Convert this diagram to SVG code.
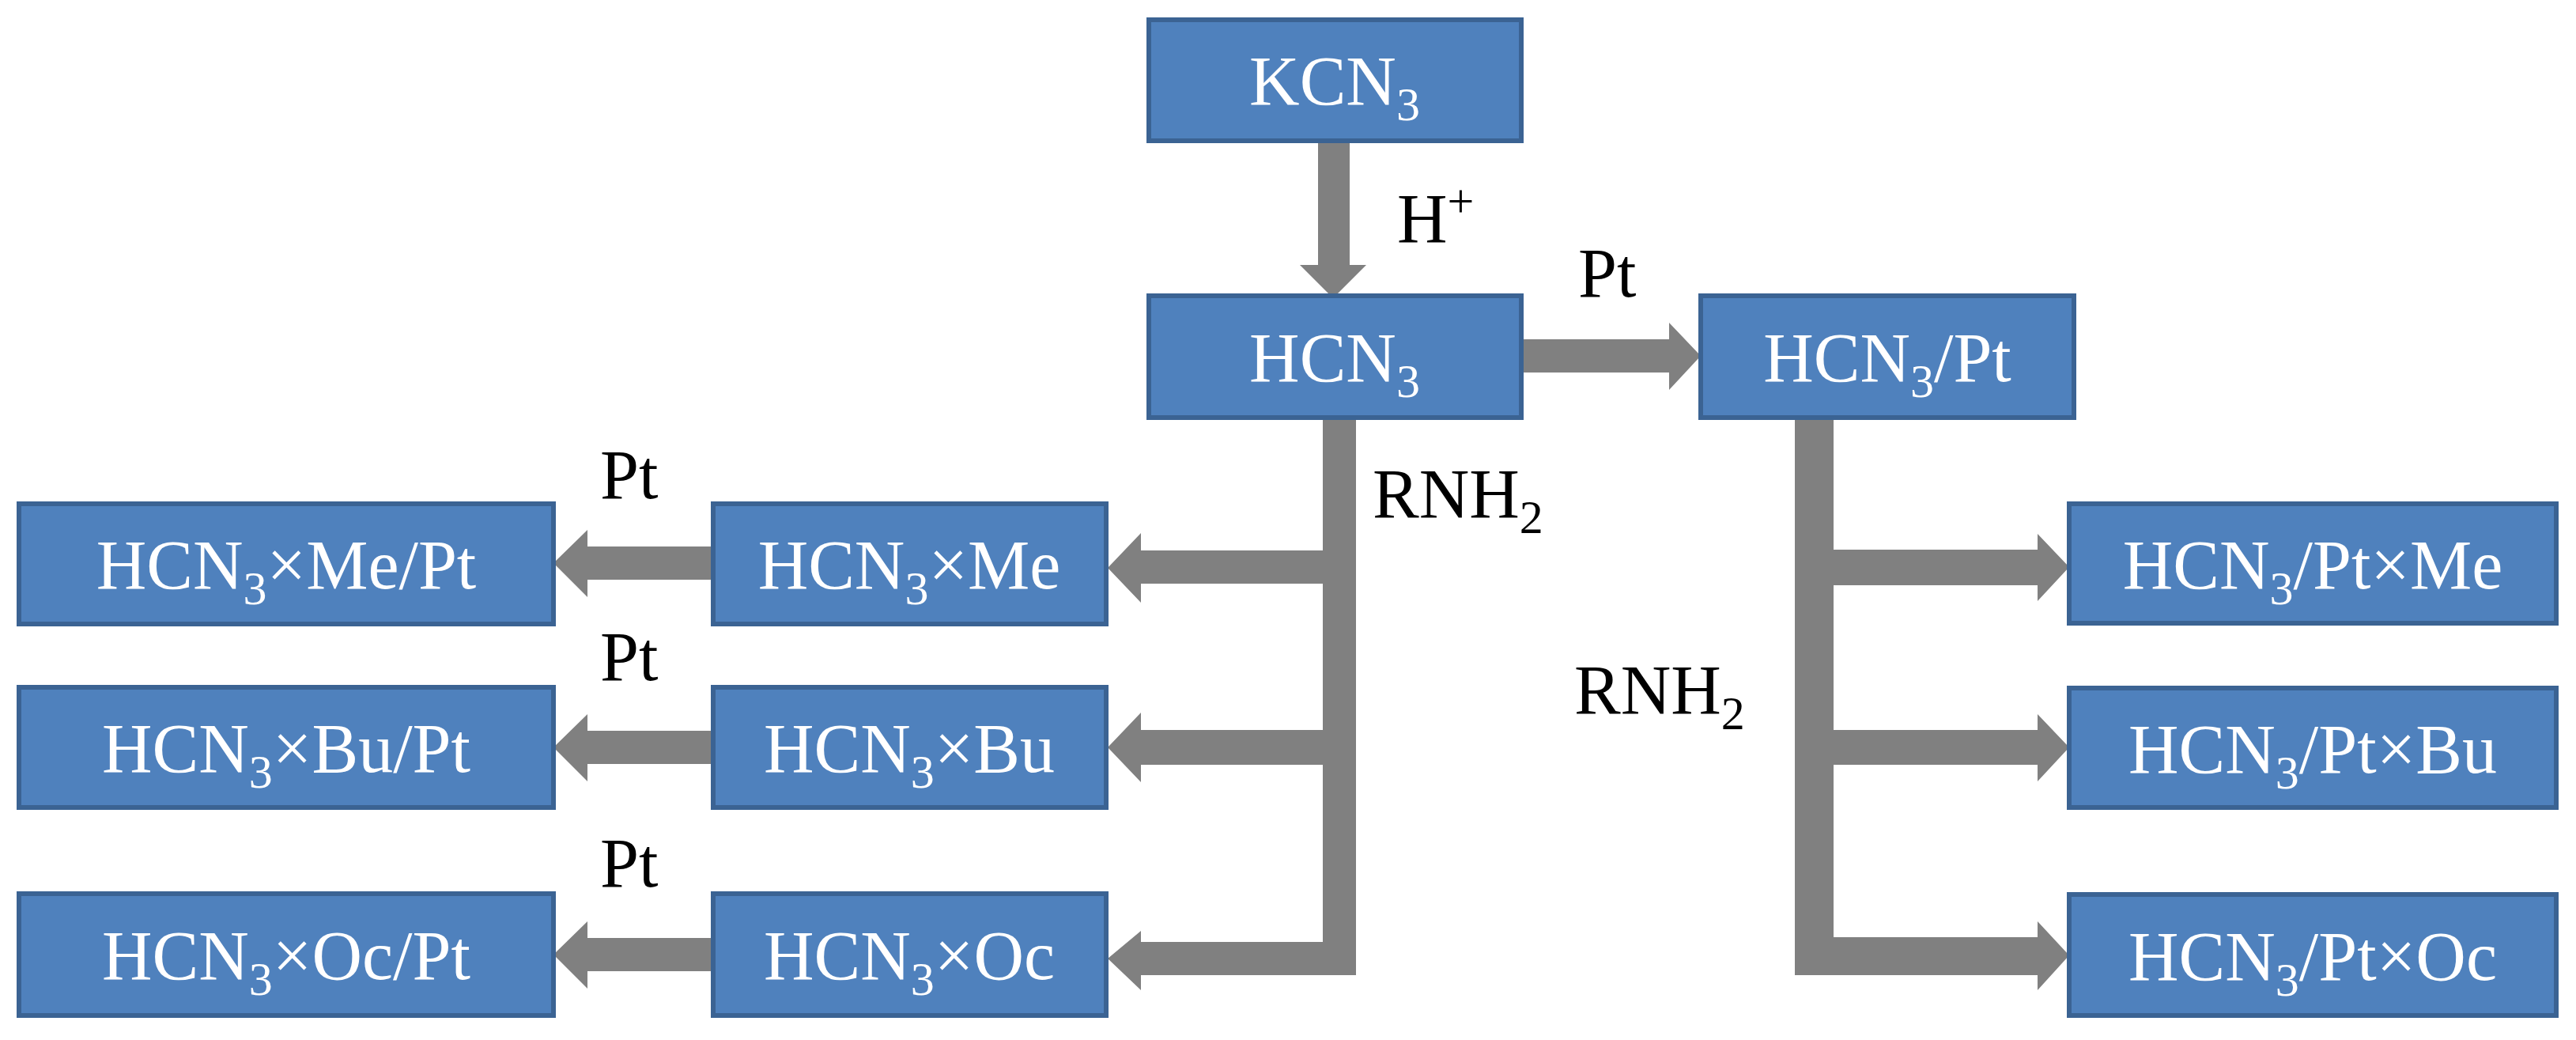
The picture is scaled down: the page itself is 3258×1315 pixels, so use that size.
<svg xmlns="http://www.w3.org/2000/svg" width="3258" height="1315" viewBox="0 0 3258 1315">
<style>
.b{fill:#4F81BD;stroke:#3B6393;stroke-width:6}
.t{font-family:"Liberation Serif",serif;font-size:88px;fill:#fff;text-anchor:middle}
.l{font-family:"Liberation Serif",serif;font-size:88px;fill:#000}
.s{font-size:60px}
.a{fill:#808080}
</style>
<rect width="3258" height="1315" fill="#fff"/>
<g id="connectors" class="a">
<polygon points="1667,178 1707,178 1707,335 1728,335 1686,377 1644,335 1667,335"/>
<polygon points="1924,429 2111,429 2111,408 2151,450 2111,493 2111,471 1924,471"/>
<polygon points="1673,528 1715,528 1715,1233 1443,1233 1443,1252 1401,1212 1443,1177 1443,1191 1673,1191 1673,738 1443,738 1443,762 1401,718 1443,674 1443,696 1673,696"/>
<polygon points="1673,923 1673,967 1443,967 1443,989 1401,945 1443,901 1443,923"/>
<polygon points="2270,527 2319,527 2319,695 2577,695 2577,675 2617,717 2577,760 2577,740 2319,740 2319,923 2577,923 2577,903 2617,945 2577,988 2577,967 2319,967 2319,1185 2577,1185 2577,1165 2617,1208 2577,1252 2577,1233 2270,1233"/>
<polygon points="900,691 900,733 743,733 743,755 700,712 743,670 743,691"/>
<polygon points="900,924 900,966 743,966 743,988 700,945 743,903 743,924"/>
<polygon points="900,1186 900,1228 743,1228 743,1250 700,1207 743,1165 743,1186"/>
</g>
<g class="l">
<text x="1767" y="306">H<tspan class="s" dy="-32">+</tspan></text>
<text x="1996" y="375">Pt</text>
<text x="1736" y="654">RNH<tspan class="s" dy="20">2</tspan></text>
<text x="1991" y="902">RNH<tspan class="s" dy="20">2</tspan></text>
<text x="759" y="630">Pt</text>
<text x="759" y="860">Pt</text>
<text x="759" y="1121">Pt</text>
</g>
<g id="kcn3"><rect class="b" x="1453" y="25" width="471" height="153"/><text class="t" x="1688" y="132">KCN<tspan class="s" dy="20">3</tspan></text></g>
<g id="hcn3"><rect class="b" x="1453" y="374" width="471" height="154"/><text class="t" x="1688" y="482">HCN<tspan class="s" dy="20">3</tspan></text></g>
<g id="hcn3pt"><rect class="b" x="2151" y="374" width="472" height="154"/><text class="t" x="2387" y="482">HCN<tspan class="s" dy="20">3</tspan><tspan dy="-20">/Pt</tspan></text></g>
<g id="me"><rect class="b" x="902" y="637" width="497" height="152"/><text class="t" x="1150" y="744">HCN<tspan class="s" dy="20">3</tspan><tspan dy="-20">×Me</tspan></text></g>
<g id="bu"><rect class="b" x="902" y="869" width="497" height="152"/><text class="t" x="1150" y="976">HCN<tspan class="s" dy="20">3</tspan><tspan dy="-20">×Bu</tspan></text></g>
<g id="oc"><rect class="b" x="902" y="1130" width="497" height="154"/><text class="t" x="1150" y="1238">HCN<tspan class="s" dy="20">3</tspan><tspan dy="-20">×Oc</tspan></text></g>
<g id="mept"><rect class="b" x="24" y="637" width="676" height="152"/><text class="t" x="362" y="744">HCN<tspan class="s" dy="20">3</tspan><tspan dy="-20">×Me/Pt</tspan></text></g>
<g id="bupt"><rect class="b" x="24" y="869" width="676" height="152"/><text class="t" x="362" y="976">HCN<tspan class="s" dy="20">3</tspan><tspan dy="-20">×Bu/Pt</tspan></text></g>
<g id="ocpt"><rect class="b" x="24" y="1130" width="676" height="154"/><text class="t" x="362" y="1238">HCN<tspan class="s" dy="20">3</tspan><tspan dy="-20">×Oc/Pt</tspan></text></g>
<g id="ptme"><rect class="b" x="2617" y="637" width="616" height="151"/><text class="t" x="2925" y="744">HCN<tspan class="s" dy="20">3</tspan><tspan dy="-20">/Pt×Me</tspan></text></g>
<g id="ptbu"><rect class="b" x="2617" y="870" width="616" height="151"/><text class="t" x="2925" y="977">HCN<tspan class="s" dy="20">3</tspan><tspan dy="-20">/Pt×Bu</tspan></text></g>
<g id="ptoc"><rect class="b" x="2617" y="1131" width="616" height="153"/><text class="t" x="2925" y="1239">HCN<tspan class="s" dy="20">3</tspan><tspan dy="-20">/Pt×Oc</tspan></text></g>
</svg>
